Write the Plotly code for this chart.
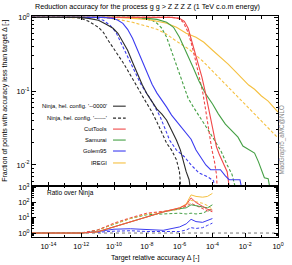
import numpy as np
import plotly.graph_objects as go
from plotly.subplots import make_subplots

# ---------------- data (x given as log10 of target accuracy) ----------------
ninja_s_xexp = [-15, -12.14, -11.55, -10.95, -10.48, -10.06, -9.76, -9.46, -9.17, -8.87, -8.57, -8.27, -7.98, -7.68, -7.38, -7.08, -6.79, -6.49, -6.19, -5.95, -5.77, -5.60, -5.42, -5.30]
ninja_s_frac = [1, 1, 0.969, 0.911, 0.804, 0.710, 0.608, 0.474, 0.358, 0.246, 0.170, 0.121, 0.091, 0.0711, 0.0571, 0.0488, 0.0404, 0.0296, 0.0216, 0.0159, 0.0107, 0.0081, 0.0063, 0.004]

ninja_d_xexp = [-15, -12.44, -12.02, -11.55, -10.95, -10.65, -10.36, -10.06, -9.76, -9.46, -9.17, -8.87, -8.57, -8.27, -7.98, -7.68, -7.38, -7.08, -6.79, -6.49, -6.19, -6.01, -5.89]
ninja_d_frac = [1, 1, 0.969, 0.883, 0.733, 0.627, 0.489, 0.393, 0.306, 0.246, 0.192, 0.150, 0.113, 0.086, 0.0668, 0.0519, 0.0380, 0.0269, 0.0197, 0.0159, 0.0117, 0.0081, 0.004]

golem_s_xexp = [-15, -10.65, -10.06, -9.76, -9.46, -9.17, -8.87, -8.57, -8.27, -7.98, -7.68, -7.38, -7.08, -6.79, -6.49, -6.19, -5.89, -5.60, -5.30, -5.00, -4.70, -4.40, -4.11, -3.51, -3.21, -2.98, -2.32, -2.14]
golem_s_frac = [1, 1, 0.969, 0.911, 0.830, 0.688, 0.520, 0.358, 0.246, 0.170, 0.124, 0.094, 0.0757, 0.0607, 0.0473, 0.0392, 0.0325, 0.0269, 0.0223, 0.0159, 0.0125, 0.0100, 0.0086, 0.0086, 0.0071, 0.0063, 0.0063, 0.004]

golem_d_xexp = [-15, -11.25, -10.65, -10.24, -9.88, -9.58, -9.29, -8.99, -8.69, -8.39, -8.10, -7.80, -7.50, -7.20, -6.90, -6.61, -6.19, -5.71, -5.30, -4.82, -4.29, -3.93, -3.81]
golem_d_frac = [1, 1, 0.911, 0.780, 0.627, 0.459, 0.336, 0.239, 0.175, 0.128, 0.100, 0.080, 0.0607, 0.0458, 0.0315, 0.0216, 0.0159, 0.0129, 0.0100, 0.0078, 0.0069, 0.0061, 0.004]

cuttools_s_xexp = [-15, -6.49, -6.01, -5.71, -5.48, -5.30, -5.12, -4.88, -4.64, -4.46, -4.29, -4.11, -3.93, -3.75, -3.57, -3.33, -3.10, -2.92]
cuttools_s_frac = [1, 1, 0.969, 0.883, 0.710, 0.520, 0.358, 0.239, 0.155, 0.103, 0.0689, 0.0444, 0.0287, 0.0175, 0.0137, 0.0107, 0.0081, 0.004]

cuttools_d_xexp = [-15, -6.49, -6.07, -5.77, -5.54, -5.30, -5.06, -4.82, -4.58, -4.40, -4.23, -4.05, -3.87, -3.75, -3.69]
cuttools_d_frac = [1, 1, 0.969, 0.856, 0.667, 0.459, 0.279, 0.170, 0.094, 0.0536, 0.0287, 0.0170, 0.0110, 0.0074, 0.004]

samurai_s_xexp = [-15, -8.57, -7.98, -7.38, -6.79, -6.37, -6.01, -5.60, -5.18, -4.82, -4.40, -3.99, -3.63, -3.21, -2.80, -2.44, -2.14, -1.73, -1.43, -1.19, -1.01, -0.83, -0.60, -0.42]
samurai_s_frac = [1, 1, 0.969, 0.939, 0.856, 0.733, 0.537, 0.347, 0.211, 0.137, 0.091, 0.0668, 0.0488, 0.0357, 0.0287, 0.0238, 0.0180, 0.0159, 0.0145, 0.0110, 0.0083, 0.0067, 0.0065, 0.004]

samurai_d_xexp = [-15, -8.87, -8.27, -7.68, -7.38, -7.08, -6.79, -6.49, -6.19, -5.83, -5.48, -5.12, -4.70, -4.29, -3.87, -3.45, -3.10, -2.80, -2.50]
samurai_d_frac = [1, 1, 0.969, 0.911, 0.830, 0.710, 0.537, 0.347, 0.218, 0.133, 0.080, 0.0589, 0.0430, 0.0305, 0.0216, 0.0150, 0.0100, 0.0074, 0.004]

iregi_s_xexp = [-15, -9.76, -8.87, -7.98, -7.38, -6.79, -6.19, -5.60, -5.00, -4.52, -3.99, -3.51, -3.04, -2.62, -2.20, -1.79, -1.43, -1.01, -0.60, -0.24, 0]
iregi_s_frac = [1, 1, 0.969, 0.939, 0.883, 0.830, 0.733, 0.608, 0.537, 0.459, 0.358, 0.288, 0.232, 0.186, 0.150, 0.121, 0.106, 0.086, 0.0734, 0.0607, 0.0519]

iregi_d_xexp = [-15, -11.55, -10.65, -9.76, -8.87, -7.98, -7.38, -6.79, -6.19, -5.42, -4.58, -3.81, -3.04, -2.20, -1.43, -0.83, -0.24, 0]
iregi_d_frac = [1, 1, 0.985, 0.939, 0.856, 0.756, 0.688, 0.589, 0.474, 0.369, 0.254, 0.170, 0.113, 0.0734, 0.0488, 0.0357, 0.0263, 0.0232]

# ratio over Ninja
ratio_xexp = [-15, -12, -11, -10, -9, -8, -7, -6, -5.6, -5.3, -5.0, -4.6, -4.3, -4.0]
cuttools_s_ratio = [1, 1, 1.2, 2.51, 5.5, 11.7, 24, 44.7, 70.8, 200, 100, 56.2, 35.5, 31.6]
samurai_s_ratio = [1, 1, 1.2, 2.51, 5.5, 11.7, 24, 39.8, 44.7, 70.8, 63.1, 50.1, 44.7, 70.8]
iregi_s_ratio = [1, 1, 1.2, 2.51, 5.5, 11.7, 24, 44.7, 79.4, 316, 251, 224, 251, 398]
golem_s_ratio = [1, 1, 1.26, 1.78, 1.91, 1.78, 1.51, 2.51, 3.98, 7.94, 5.62, 5.01, 6.31, 8.91]
cuttools_d_ratio = [1, 1, 1.58, 4.47, 10, 20, 26.3, 39.8, 56.2, 89.1, 63.1, 39.8, 28.2, 25.1]
samurai_d_ratio = [1, 1, 1.58, 3.98, 8.91, 15.8, 17.8, 20, 17.8, 20, 17.8, 20, 28.2, 35.5]
iregi_d_ratio = [1, 1, 1.51, 3.98, 8.91, 17.8, 25.1, 35.5, 63.1, 141, 112, 89.1, 63.1, 35.5]
golem_d_ratio = [1, 1, 1.12, 1.32, 1.41, 1.26, 1.32, 1.26, 1.58, 2.24, 2.0, 2.24, 3.16, 4.47]
unity_xexp = [-15, 0]
unity_ratio = [1, 1]

legend_labels = ["Ninja, hel. config. '--0000'", "Ninja, hel. config. '------'", "CutTools", "Samurai", "Golem95", "IREGI"]

# ---------------- styles ----------------
BLACK = "#2a2a2a"
RED = "#f04848"
GREEN = "#45a045"
BLUE = "#3c3cf0"
ORANGE = "#f5c040"
DASH = "3px,2px"
FONT = "Liberation Sans, Arial, sans-serif"

W, H = 292, 265
ML, MR, MT, MB = 32, 8, 15.5, 27.7
PW, PH = W - ML - MR, H - MT - MB
split = (237.3 - 186) / PH

fig = make_subplots(rows=2, cols=1, shared_xaxes=True, vertical_spacing=0,
                    row_heights=[1 - split, split])

def x10(e):
    return 10 ** np.array(e, dtype=float)

top = [
    (iregi_d_xexp, iregi_d_frac, ORANGE, DASH),
    (samurai_d_xexp, samurai_d_frac, GREEN, DASH),
    (cuttools_d_xexp, cuttools_d_frac, RED, DASH),
    (golem_d_xexp, golem_d_frac, BLUE, DASH),
    (ninja_d_xexp, ninja_d_frac, BLACK, DASH),
    (iregi_s_xexp, iregi_s_frac, ORANGE, "solid"),
    (samurai_s_xexp, samurai_s_frac, GREEN, "solid"),
    (cuttools_s_xexp, cuttools_s_frac, RED, "solid"),
    (golem_s_xexp, golem_s_frac, BLUE, "solid"),
    (ninja_s_xexp, ninja_s_frac, BLACK, "solid"),
]
for xe, yv, c, d in top:
    fig.add_trace(go.Scatter(x=x10(xe), y=yv, mode="lines",
                             line=dict(color=c, width=1.1, dash=d),
                             showlegend=False, hoverinfo="skip"), row=1, col=1)

bottom = [
    (unity_xexp, unity_ratio, "#777777", "3px,3px"),
    (ratio_xexp, golem_d_ratio, BLUE, DASH),
    (ratio_xexp, samurai_d_ratio, GREEN, DASH),
    (ratio_xexp, iregi_d_ratio, ORANGE, DASH),
    (ratio_xexp, cuttools_d_ratio, RED, DASH),
    (ratio_xexp, golem_s_ratio, BLUE, "solid"),
    (ratio_xexp, samurai_s_ratio, GREEN, "solid"),
    (ratio_xexp, iregi_s_ratio, ORANGE, "solid"),
    (ratio_xexp, cuttools_s_ratio, RED, "solid"),
]
for xe, yv, c, d in bottom:
    fig.add_trace(go.Scatter(x=x10(xe), y=yv, mode="lines",
                             line=dict(color=c, width=1.0, dash=d),
                             showlegend=False, hoverinfo="skip"), row=2, col=1)

sup = lambda e: "10<sup>%d</sup>" % e
xt_vals = [10.0 ** e for e in range(-14, 1, 2)]
xt_text = [sup(e) for e in range(-14, 1, 2)]
xt_minor = [10.0 ** e for e in range(-15, 0, 2)]

axcommon = dict(showline=True, linecolor="black", linewidth=1, mirror="allticks",
                ticks="inside", ticklen=4, tickcolor="black", showgrid=False,
                zeroline=False, tickfont=dict(family=FONT, size=7.5, color="black"))

fig.update_xaxes(type="log", range=[-15, 0], tickvals=xt_vals, ticktext=xt_text,
                 minor=dict(ticks="inside", ticklen=2.5, tickcolor="black", tickvals=xt_minor),
                 **axcommon)
fig.update_xaxes(showticklabels=False, row=1, col=1)
fig.update_xaxes(ticklabelstandoff=2, row=2, col=1)

fig.update_yaxes(type="log", range=[-2.284, 0.018], tickvals=[0.01, 0.1, 1],
                 ticktext=[sup(-2), sup(-1), sup(0)],
                 minor=dict(ticks="inside", ticklen=2, tickcolor="black",
                            tickvals=[k * 10.0 ** e for e in (-3, -2, -1) for k in range(2, 10)]),
                 row=1, col=1, **axcommon)
fig.update_yaxes(type="log", range=[-0.26, 3.09], tickvals=[1, 10, 100, 1000],
                 ticktext=[sup(0), sup(1), sup(2), sup(3)],
                 minor=dict(ticks="inside", ticklen=2, tickcolor="black",
                            tickvals=[k * 10.0 ** e for e in (-1, 0, 1, 2) for k in range(2, 10)]),
                 row=2, col=1, **axcommon)

def px(p):
    return (p - ML) / PW

def py(p):
    return 1 - (p - MT) / PH

ann = []
shapes = []
ann.append(dict(text="Reduction accuracy for the process g g > Z Z Z Z (1 TeV c.o.m energy)",
                x=px(150), y=py(5.5), xref="paper", yref="paper", showarrow=False,
                xanchor="center", yanchor="middle", font=dict(family=FONT, size=7.2, color="black")))
ann.append(dict(text="Fraction of points with accuracy less than target Δ [-]",
                x=px(5), y=py(101), xref="paper", yref="paper", showarrow=False, textangle=-90,
                xanchor="center", yanchor="middle", font=dict(family=FONT, size=7, color="black")))
ann.append(dict(text="Target relative accuracy Δ [-]",
                x=px(158), y=py(258), xref="paper", yref="paper", showarrow=False,
                xanchor="center", yanchor="middle", font=dict(family=FONT, size=7, color="black")))
ann.append(dict(text="Ratio over Ninja",
                x=px(45), y=py(193.5), xref="paper", yref="paper", showarrow=False,
                xanchor="left", yanchor="middle", font=dict(family=FONT, size=6.5, color="black")))
ann.append(dict(text="MadGraph5_aMC@NLO",
                x=px(288.5), y=py(140), xref="paper", yref="paper", showarrow=False, textangle=-90,
                xanchor="center", yanchor="middle", font=dict(family=FONT, size=6.3, color="#888888")))

leg_rows = [106, 118, 129, 140, 151, 163]
leg_styles = [(BLACK, "solid"), (BLACK, "dash"), (RED, "solid"), (GREEN, "solid"), (BLUE, "solid"), (ORANGE, "solid")]
for lab, r, (c, d) in zip(legend_labels, leg_rows, leg_styles):
    ann.append(dict(text=lab, x=px(111), y=py(r), xref="paper", yref="paper", showarrow=False,
                    xanchor="right", yanchor="middle", font=dict(family=FONT, size=5.8, color="black")))
    shapes.append(dict(type="line", xref="paper", yref="paper", x0=px(115), x1=px(128),
                       y0=py(r), y1=py(r), line=dict(color=c, width=1.1, dash=("3px,2px" if d == "dash" else "solid"))))

fig.update_layout(width=W, height=H, margin=dict(l=ML, r=MR, t=MT, b=MB),
                  paper_bgcolor="white", plot_bgcolor="white",
                  annotations=ann, shapes=shapes, showlegend=False,
                  font=dict(family=FONT, size=7, color="black"))

fig.write_html("out.html", config={"displayModeBar": False},
               post_script="document.body.style.margin='0px';document.body.style.overflow='hidden';")
